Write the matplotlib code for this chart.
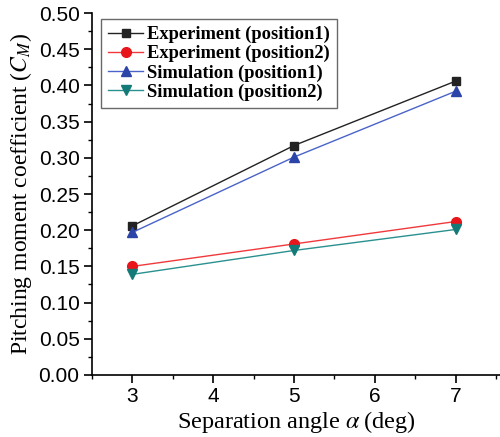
import matplotlib
matplotlib.use("Agg")
import matplotlib.pyplot as plt
from matplotlib.ticker import MultipleLocator, FormatStrFormatter

plt.rcParams["mathtext.fontset"] = "stix"

angles = [3, 5, 7]
exp_pos1 = [0.206, 0.317, 0.406]
exp_pos2 = [0.150, 0.181, 0.212]
sim_pos1 = [0.197, 0.301, 0.392]
sim_pos2 = [0.139, 0.172, 0.201]
labels = ["Experiment (position1)", "Experiment (position2)",
          "Simulation (position1)", "Simulation (position2)"]

fig = plt.figure(figsize=(5, 4.37), dpi=100)
ax = fig.add_axes([0.184, 0.142, 0.816, 0.828])

ax.plot(angles, exp_pos1, color="#222222", marker="s", ms=5.5, lw=1, label=labels[0])
ax.plot(angles, exp_pos2, color="#f0393c", marker="o", ms=7, lw=1, mfc="#e8161b", mec="#e8161b", label=labels[1])
ax.plot(angles, sim_pos1, color="#4a63c8", marker="^", ms=7, lw=1, mfc="#2b44a8", mec="#2b44a8", label=labels[2])
ax.plot(angles, sim_pos2, color="#2a9090", marker="v", ms=7, lw=1, mfc="#137a78", mec="#137a78", label=labels[3])

ax.set_xlim(2.5, 7.55)
ax.set_ylim(0, 0.5)
ax.xaxis.set_major_locator(MultipleLocator(1))
ax.xaxis.set_minor_locator(MultipleLocator(0.5))
ax.yaxis.set_major_locator(MultipleLocator(0.05))
ax.yaxis.set_minor_locator(MultipleLocator(0.025))
ax.yaxis.set_major_formatter(FormatStrFormatter("%.2f"))
for s in ["top", "right"]:
    ax.spines[s].set_visible(False)
for s in ["left", "bottom"]:
    ax.spines[s].set_linewidth(1.2)
ax.tick_params(which="major", direction="out", length=6, width=1.2, labelsize=15, pad=3)
ax.tick_params(which="minor", direction="out", length=3, width=1)
for lab in ax.get_xticklabels() + ax.get_yticklabels():
    lab.set_family("Liberation Sans")

ax.set_xlabel(r"Separation angle $\alpha\;$(deg)", fontsize=17.5, family="Liberation Serif", labelpad=2)
ax.set_ylabel(r"Pitching moment coefficient ($C_M$)", fontsize=17, family="Liberation Serif", labelpad=3)

leg = ax.legend(loc="upper left", bbox_to_anchor=(0.012, 0.995), frameon=True, fancybox=False,
                edgecolor="#444444", prop={"family": "Liberation Serif", "weight": "bold", "size": 13.3},
                handlelength=1.9, handletextpad=0.2, borderpad=0.4, labelspacing=0.1,
                borderaxespad=0.2)
leg.get_frame().set_linewidth(1)

fig.savefig("out.png", dpi=100)
